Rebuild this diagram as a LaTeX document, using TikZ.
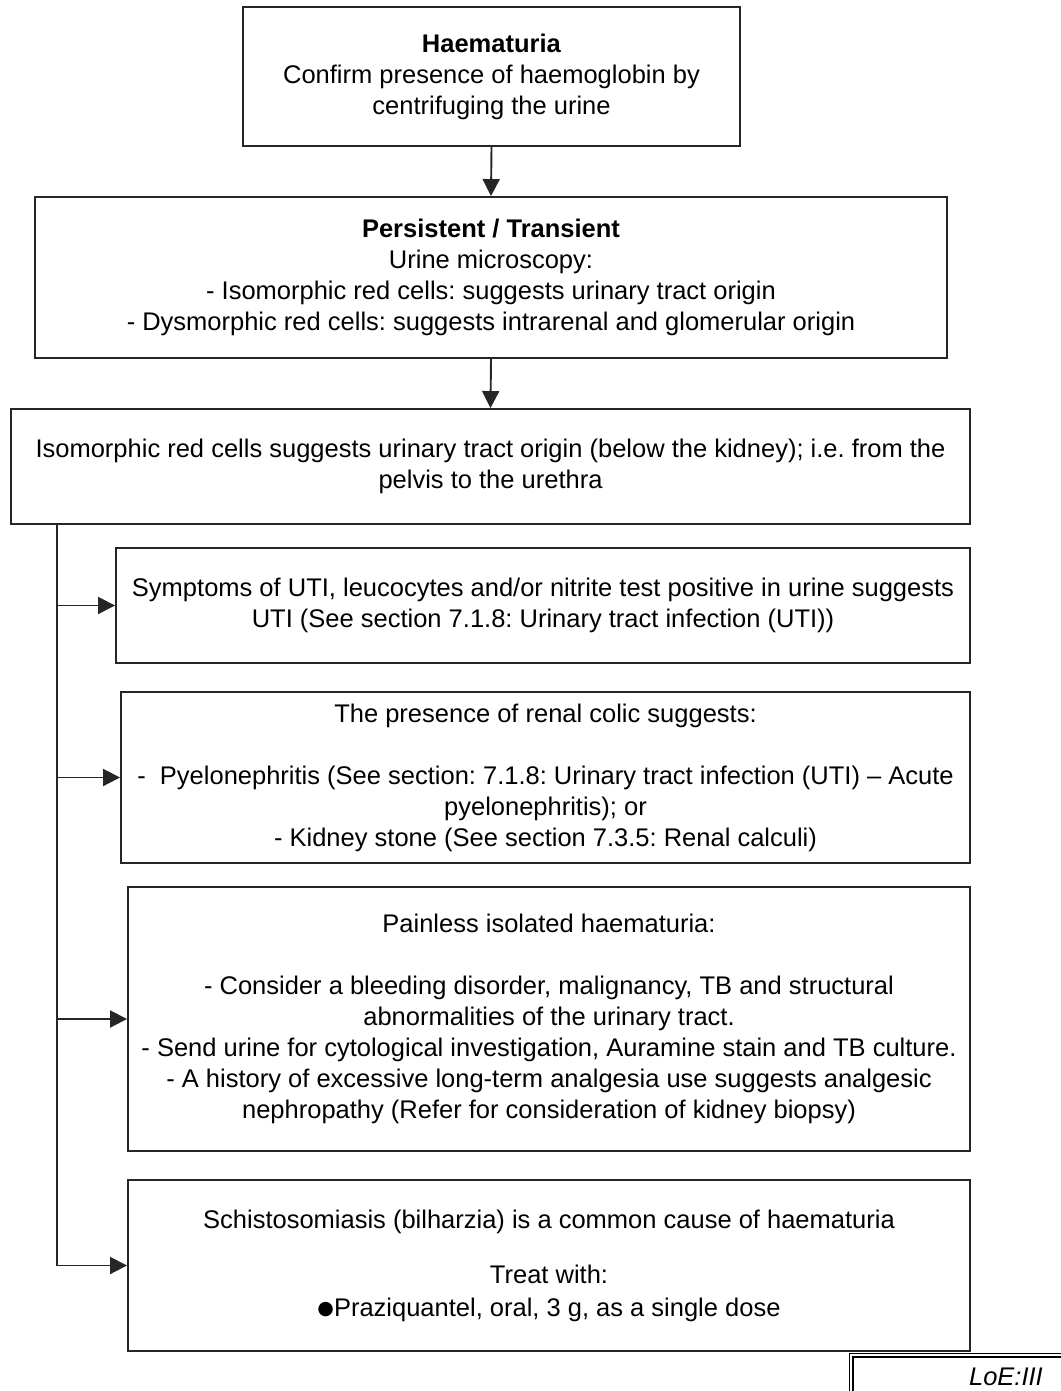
\documentclass[tikz,border=0pt]{standalone}
\usepackage{fontspec}
\setmainfont{Liberation Sans}
\newfontfamily\symfont{DejaVu Sans}
\usetikzlibrary{arrows.meta,calc}
\frenchspacing
\begin{document}
\frenchspacing
\begin{tikzpicture}[x=1pt,y=-1pt,
  every node/.style={font=\fontsize{25.5}{31}\selectfont},
  box/.style={draw=black!85, line width=1.9pt, align=center, inner sep=0pt},
  arr/.style={line width=1.9pt, draw=black!85, -{Triangle[length=17pt,width=17pt]}},
  ln/.style={line width=1.9pt, draw=black!85}]
\useasboundingbox (0,0) rectangle (1060,1391);
\node[box, minimum width=497pt, minimum height=139pt] (b1) at (491.5,76.5)
  {\textbf{Haematuria}\\Confirm presence of haemoglobin by\\centrifuging the urine};
\node[box, minimum width=912pt, minimum height=161pt] (b2) at (491,277.5)
  {\textbf{Persistent / Transient}\\Urine microscopy:\\- Isomorphic red cells: suggests urinary tract origin\\- Dysmorphic red cells: suggests intrarenal and glomerular origin};
\node[box, minimum width=959pt, minimum height=115pt] (b3) at (490.5,466.5)
  {Isomorphic red cells suggests urinary tract origin (below the kidney); i.e. from the\\pelvis to the urethra};
\node[box, minimum width=854pt, minimum height=115pt] (b4) at (543,605.5)
  {Symptoms of UTI, leucocytes and/or nitrite test positive in urine suggests\\UTI (See section 7.1.8: Urinary tract infection (UTI))};
\node[box, minimum width=849pt, minimum height=171pt] (b5) at (545.5,777.5)
  {The presence of renal colic suggests:\\[31pt]-\ \ Pyelonephritis (See section: 7.1.8: Urinary tract infection (UTI) -- Acute\\pyelonephritis); or\\- Kidney stone (See section 7.3.5: Renal calculi)};
\node[box, minimum width=842pt, minimum height=264pt] (b6) at (549,1019)
  {Painless isolated haematuria:\\[31pt]- Consider a bleeding disorder, malignancy, TB and structural\\abnormalities of the urinary tract.\\- Send urine for cytological investigation, Auramine stain and TB culture.\\- A history of excessive long-term analgesia use suggests analgesic\\nephropathy (Refer for consideration of kidney biopsy)};
\node[box, minimum width=842pt, minimum height=171pt] (b7) at (549,1265.5)
  {Schistosomiasis (bilharzia) is a common cause of haematuria\\[24pt]Treat with:\\[2pt]\raisebox{1.5pt}{\symfont\fontsize{19}{31}\selectfont ●}Praziquantel, oral, 3 g, as a single dose};
\draw[arr] (b1.south) -- (b2.north);
\draw[arr] (b2.south) -- (b3.north);
\coordinate (trunk) at ($(b3.south west)+(47,0)$);
\draw[ln] (trunk) -- (trunk |- b7.west);
\draw[arr] (trunk |- b4.west) -- (b4.west);
\draw[arr] (trunk |- b5.west) -- (b5.west);
\draw[arr] (trunk |- b6.west) -- (b6.west);
\draw[arr] (trunk |- b7.west) -- (b7.west);
\draw[line width=1.4pt, double, double distance=2.2pt, draw=black] (851,1420) -- (851,1355) -- (1100,1355);
\node[anchor=base east, font=\itshape\fontsize{25.5}{31}\selectfont, inner sep=0pt] (loe) at (1043,1385) {LoE:III};
\end{tikzpicture}
\end{document}
